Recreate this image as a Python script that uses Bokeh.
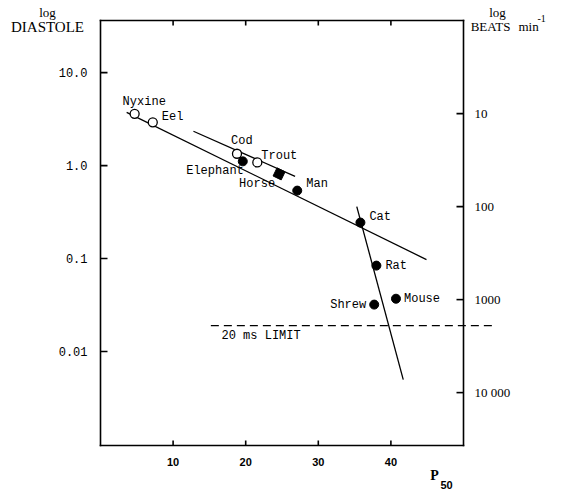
import math
from bokeh.plotting import figure
from bokeh.models import Range1d
from bokeh.core.properties import value
from bokeh.embed import file_html
from bokeh.resources import INLINE

# ---------------- data ----------------
fish_names = ["Nyxine", "Eel", "Cod", "Trout"]
fish_p50 = [4.7, 7.2, 18.8, 21.6]
fish_diastole = [3.60, 2.92, 1.34, 1.08]

mammal_names = ["Elephant", "Man", "Cat", "Rat", "Shrew", "Mouse"]
mammal_p50 = [19.6, 27.1, 35.8, 38.0, 37.7, 40.7]
mammal_diastole = [1.11, 0.538, 0.244, 0.084, 0.032, 0.037]

horse_names = ["Horse"]
horse_p50 = [24.6]
horse_diastole = [0.814]

line_main_p50 = [3.6, 44.9]
line_main_diastole = [3.74, 0.0975]
line_fish_p50 = [12.8, 26.8]
line_fish_diastole = [2.34, 0.767]
line_small_p50 = [35.3, 41.7]
line_small_diastole = [0.362, 0.0050]

limit_diastole = 0.019
limit_p50 = [15.2, 54.1]
limit_label = "20 ms LIMIT"

x_ticks = [10, 20, 30, 40]
x_tick_labels = ["10", "20", "30", "40"]
y_ticks = [0.01, 0.1, 1, 10]
y_tick_labels = ["0.01", "0.1", "1.0", "10.0"]
bpm_ticks = [10, 100, 1000, 10000]
bpm_tick_labels = ["10", "100", "1000", "10 000"]
BPM_K = 36.2  # diastole ~ K / beats per minute (alignment of the right scale)

# ---------------- layout ----------------
W, H = 585, 491
FL, FR, FT, FB = 100, 463, 20, 445          # plot box in pixels
X0, X1 = 0.0, 50.0
Y_LO, Y_HI = 10 ** -3.01, 10 ** 1.56


def px_x(px):
    return X0 + (px - FL) / (FR - FL) * (X1 - X0)


def py_y(py):
    lo, hi = math.log10(Y_LO), math.log10(Y_HI)
    return 10 ** (hi - (py - FT) / (FB - FT) * (hi - lo))


p = figure(width=W, height=H, output_backend="svg", toolbar_location=None,
           x_range=Range1d(px_x(0), px_x(W)), y_range=Range1d(py_y(H), py_y(0)),
           y_axis_type="log", x_axis_location=None, y_axis_location=None,
           min_border=0)
p.outline_line_color = None
p.background_fill_color = "white"
p.border_fill_color = "white"
p.grid.visible = False
p.xgrid.visible = False
p.ygrid.visible = False

AX_W = 1.6
BLACK = "black"

# ---------------- axes box and ticks ----------------
p.segment(x0=[X0, X0, X0, X1], y0=[Y_LO, Y_HI, Y_LO, Y_LO],
          x1=[X1, X1, X0, X1], y1=[Y_LO, Y_HI, Y_HI, Y_HI],
          line_color=BLACK, line_width=AX_W, line_cap="square")

n = len(x_ticks)
p.segment(x0=x_ticks, y0=[Y_LO] * n, x1=x_ticks, y1=[py_y(FB - 5)] * n,
          line_color=BLACK, line_width=AX_W)
p.segment(x0=x_ticks, y0=[Y_HI] * n, x1=x_ticks, y1=[py_y(FT + 5)] * n,
          line_color=BLACK, line_width=AX_W)
p.segment(x0=[X0] * len(y_ticks), y0=y_ticks, x1=[px_x(FL + 7)] * len(y_ticks), y1=y_ticks,
          line_color=BLACK, line_width=AX_W)
bpm_pos = [BPM_K / b for b in bpm_ticks]
p.segment(x0=[X1] * len(bpm_pos), y0=bpm_pos, x1=[px_x(FR - 7)] * len(bpm_pos), y1=bpm_pos,
          line_color=BLACK, line_width=AX_W)

# tick labels
p.text(x=x_ticks, y=[Y_LO] * n, text=x_tick_labels, y_offset=16,
       text_align="center", text_baseline="middle",
       text_font=value("Liberation Sans"), text_font_style="bold",
       text_font_size="11px", text_color=BLACK)
p.text(x=[X0] * len(y_ticks), y=y_ticks, text=y_tick_labels, x_offset=-13,
       text_align="right", text_baseline="middle",
       text_font=value("Liberation Mono"), text_font_size="12px", text_color=BLACK)
p.text(x=[X1] * len(bpm_pos), y=bpm_pos, text=bpm_tick_labels, x_offset=11,
       text_align="left", text_baseline="middle",
       text_font=value("Liberation Serif"), text_font_size="13px", text_color=BLACK)

# ---------------- lines ----------------
LW = 1.3
p.line(line_main_p50, line_main_diastole, line_color=BLACK, line_width=LW)
p.line(line_fish_p50, line_fish_diastole, line_color=BLACK, line_width=LW)
p.line(line_small_p50, line_small_diastole, line_color=BLACK, line_width=LW)
p.line(limit_p50, [limit_diastole, limit_diastole], line_color=BLACK,
       line_width=1.3, line_dash="8 5")

# ---------------- markers ----------------
p.scatter(fish_p50, fish_diastole, marker="circle", size=9, fill_color="white",
          line_color=BLACK, line_width=1.3)
p.scatter(mammal_p50, mammal_diastole, marker="circle", size=9, fill_color=BLACK,
          line_color=BLACK)
p.scatter(horse_p50, horse_diastole, marker="square", size=9, angle=-0.45,
          fill_color=BLACK, line_color=BLACK)

# ---------------- point labels ----------------
lab_names = fish_names + mammal_names + horse_names
lab_x = fish_p50 + mammal_p50 + horse_p50
lab_y = fish_diastole + mammal_diastole + horse_diastole
off = {"Nyxine": (-12, -12, "left"), "Eel": (9, -5, "left"), "Cod": (-6, -13, "left"),
       "Trout": (4, -6, "left"), "Elephant": (1, 10, "right"), "Horse": (-4, 10, "right"),
       "Man": (9, -7, "left"), "Cat": (9, -6, "left"), "Rat": (9, 0, "left"),
       "Shrew": (-8, 0, "right"), "Mouse": (8, 0, "left")}
p.text(x=lab_x, y=lab_y, text=lab_names,
       x_offset=[off[k][0] for k in lab_names],
       y_offset=[off[k][1] for k in lab_names],
       text_align=[off[k][2] for k in lab_names],
       text_baseline="middle", text_font=value("Liberation Mono"),
       text_font_size="12px", text_color=BLACK)

p.text(x=[px_x(221)], y=[limit_diastole], text=[limit_label], y_offset=10,
       text_align="left", text_baseline="middle",
       text_font=value("Liberation Mono"), text_font_size="12px", text_color=BLACK)

# ---------------- axis titles ----------------
def title(px, py, text, size="13px", align="center", font="Liberation Serif", style="normal"):
    p.text(x=[px_x(px)], y=[py_y(py)], text=[text], text_align=align,
           text_baseline="middle", text_font=value(font), text_font_size=size,
           text_font_style=style, text_color=BLACK)


title(47, 12, "log", "13px")
title(47, 26, "DIASTOLE", "15px")
title(497, 12, "log", "13px")
title(490, 26, "BEATS", "13px")
title(518, 26, "min", "13px", align="left")
title(537, 18, "-1", "10px", align="left")
title(434, 475, "P", "14px", style="bold")
title(440, 484, "50", "11px", align="left", font="Liberation Sans", style="bold")

open("out.html", "w").write(file_html(p, INLINE))
